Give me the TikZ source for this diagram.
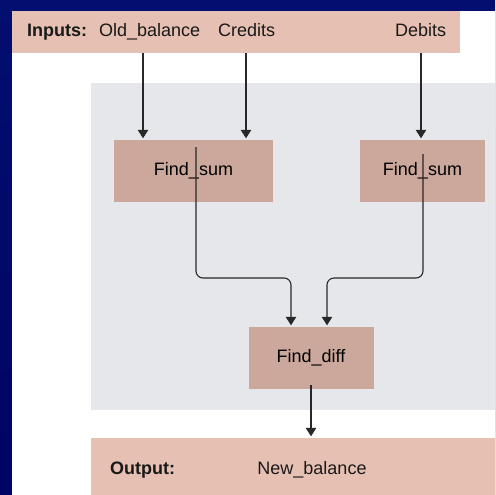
\documentclass[tikz,border=0pt]{standalone}
\usepackage{fontspec}
\setmainfont{Liberation Sans}
\usetikzlibrary{arrows.meta}
\definecolor{bgtop}{RGB}{2,14,112}
\definecolor{bgbot}{RGB}{0,4,100}
\definecolor{barpink}{RGB}{230,192,178}
\definecolor{boxpink}{RGB}{204,168,156}
\definecolor{panelgrey}{RGB}{230,231,234}
\definecolor{linegrey}{RGB}{40,40,40}
\begin{document}
\begin{tikzpicture}[x=1pt,y=-1pt,
  bar/.style={fill=barpink,draw=none,inner sep=0pt},
  procbox/.style={fill=boxpink,draw=none,inner sep=0pt,font=\fontsize{18}{21}\selectfont},
  lbl/.style={inner sep=0pt,anchor=base west,font=\fontsize{18}{21}\selectfont,text=black!90},
  boldlbl/.style={lbl,font=\fontsize{18}{21}\selectfont\bfseries},
  arr/.style={draw=linegrey,line width=1.1pt,shorten >=1.5pt,-{Triangle[width=10.5pt,length=8.5pt]}},
  flow/.style={arr,rounded corners=7pt}]
\useasboundingbox (0,0) rectangle (495,495);
\shade[top color=bgtop, bottom color=bgbot] (0,0) rectangle (495,495);
\fill[white] (12,11) rectangle (495,495);
% bars and panel
\node[bar,minimum width=448pt,minimum height=42pt] (inputs) at (236,32) {};
\node[fill=panelgrey,inner sep=0pt,minimum width=404pt,minimum height=327pt] (panel) at (293,246.5) {};
\node[bar,minimum width=404pt,minimum height=57pt] (output) at (293,466.5) {};
% texts
\node[boldlbl] (tin) at (27,37) {Inputs:};
\node[lbl] (tob) at (99,37) {Old\_balance};
\node[lbl] (tcr) at (218,37) {Credits};
\node[lbl] (tdb) at (395,37) {Debits};
\node[boldlbl] (tout) at (110,474) {Output:};
\node[lbl,anchor=base] (tnb) at (312,474) {New\_balance};
% process boxes
\node[procbox,minimum width=159pt,minimum height=62pt] (fs1) at (193.5,171) {Find\_sum};
\node[procbox,minimum width=125pt,minimum height=62pt] (fs2) at (422.5,171) {Find\_sum};
\node[procbox,minimum width=125pt,minimum height=62pt] (fd) at (311,358) {Find\_diff};
% coordinates
\coordinate (xob) at (143,0);
\coordinate (xcr) at (246,0);
\coordinate (xdb) at (421,0);
\coordinate (s1) at (196,147);
\coordinate (s2) at (423,154);
\coordinate (m1) at (291,278);
\coordinate (m2) at (327,278);
% connectors
\draw[arr] (inputs.south -| xob) -- (fs1.north -| xob);
\draw[arr] (inputs.south -| xcr) -- (fs1.north -| xcr);
\draw[arr] (inputs.south -| xdb) -- (fs2.north -| xdb);
\draw[flow] (s1) |- (m1) -- (fd.north -| m1);
\draw[flow] (s2) |- (m2) -- (fd.north -| m2);
\draw[arr] ([yshift=4pt]fd.south) -- (output.north -| fd.south);
\end{tikzpicture}
\end{document}
